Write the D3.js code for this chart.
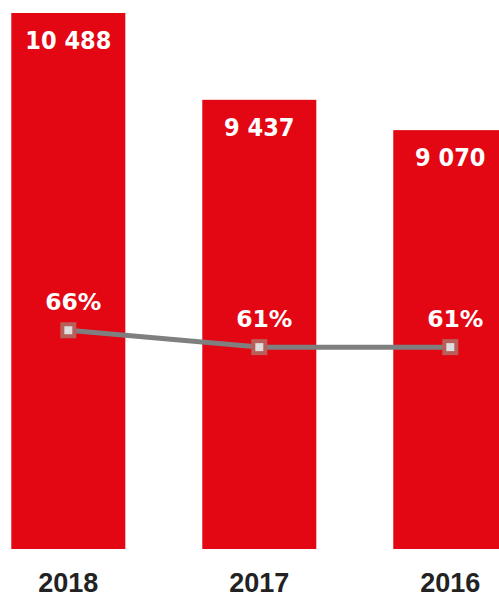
<!DOCTYPE html>
<html>
<head>
<meta charset="utf-8">
<script src="https://cdn.jsdelivr.net/npm/d3@7"></script>
<style>
  html, body { margin: 0; padding: 0; background: #fff; }
  svg { display: block; }
</style>
</head>
<body>
<svg id="chart" width="499" height="597"></svg>
<script>
// Yearly totals (bars) and share (line)
const years = ["2018", "2017", "2016"];
const totals = [10488, 9437, 9070];
const shares = [0.66, 0.61, 0.61];
const totalLabels = ["10 488", "9 437", "9 070"];
const shareLabels = ["66%", "61%", "61%"];

const svg = d3.select("#chart");

const x = d3.scaleBand()
  .domain(years)
  .range([11.3, 507.3])
  .paddingInner(0.403)
  .paddingOuter(0);

// Bars start from a non-zero baseline
const yBar = d3.scaleLinear().domain([4000, 10500]).range([549, 12]);
// Secondary scale for the share line
const yShare = d3.scaleLinear().domain([0, 1.6]).range([553, 13]);

const rows = years.map((yr, i) => ({
  year: yr, total: totals[i], share: shares[i],
  totalLabel: totalLabels[i], shareLabel: shareLabels[i]
}));

// Bars
svg.append("g").selectAll("rect")
  .data(rows)
  .join("rect")
  .attr("x", d => x(d.year))
  .attr("width", x.bandwidth())
  .attr("y", d => yBar(d.total))
  .attr("height", d => yBar.range()[0] - yBar(d.total))
  .attr("fill", "#e30613");

// Total labels inside the bar tops
svg.append("g").selectAll("text")
  .data(rows)
  .join("text")
  .attr("x", d => x(d.year) + x.bandwidth() / 2)
  .attr("y", d => yBar(d.total) + 36)
  .attr("text-anchor", "middle")
  .attr("font-family", "'DejaVu Sans Condensed', 'DejaVu Sans', sans-serif")
  .attr("font-weight", "bold")
  .attr("font-size", 25)
  .attr("fill", "#fff")
  .text(d => d.totalLabel);

// Share line
const cx = d => x(d.year) + x.bandwidth() / 2;
const line = d3.line().x(cx).y(d => yShare(d.share));

svg.append("path")
  .datum(rows)
  .attr("d", line)
  .attr("fill", "none")
  .attr("stroke", "#7f7f7f")
  .attr("stroke-width", 5);

// Square markers
svg.append("g").selectAll("rect")
  .data(rows)
  .join("rect")
  .attr("x", d => cx(d) - 6)
  .attr("y", d => yShare(d.share) - 6)
  .attr("width", 12)
  .attr("height", 12)
  .attr("fill", "#dedede")
  .attr("stroke", "#b95f59")
  .attr("stroke-width", 4);

// Share labels
svg.append("g").selectAll("text")
  .data(rows)
  .join("text")
  .attr("x", d => cx(d) + 5)
  .attr("y", d => yShare(d.share) - 20)
  .attr("text-anchor", "middle")
  .attr("font-family", "'DejaVu Sans', sans-serif")
  .attr("font-weight", "bold")
  .attr("font-size", 23.5)
  .attr("fill", "#fff")
  .text(d => d.shareLabel);

// Category axis labels
const xAxis = d3.axisBottom(x).tickSize(0).tickPadding(0);
const ax = svg.append("g")
  .attr("transform", "translate(0,572)")
  .call(xAxis);
ax.select(".domain").remove();
ax.selectAll("text")
  .attr("dy", 0)
  .attr("y", 20)
  .attr("font-family", "'Liberation Sans', Arial, sans-serif")
  .attr("font-weight", "bold")
  .attr("font-size", 27)
  .attr("fill", "#222");
</script>
</body>
</html>
